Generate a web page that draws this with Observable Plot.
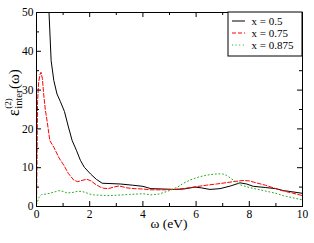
<!DOCTYPE html>
<html>
<head>
<meta charset="utf-8">
<script src="https://cdn.jsdelivr.net/npm/d3@7"></script>
<script src="https://cdn.jsdelivr.net/npm/@observablehq/plot@0.6"></script>
<style>
  html, body { margin: 0; padding: 0; background: white; }
  #chart { width: 314px; height: 243px; }
</style>
</head>
<body>
<div id="chart"></div>
<script>
// ---- data ----
const seriesNames = ["x = 0.5", "x = 0.75", "x = 0.875"];
const seriesColors = ["#000000", "#ff0000", "#22aa22"];
const seriesDash = [null, "4,2", "1,2.6"];

const w05 = [0.40, 0.47, 0.55, 0.65, 0.77, 0.90, 1.05, 1.20, 1.34, 1.50, 1.65, 1.80, 2.03, 2.25, 2.47, 2.80, 3.15, 3.60, 4.00, 4.30, 4.80, 5.20, 5.53, 5.96, 6.20, 6.52, 6.90, 7.30, 7.65, 7.90, 8.15, 8.60, 9.00, 9.28, 9.60, 10.0];
const v05 = [60, 50, 37.6, 32.5, 29.0, 27.0, 24.5, 20.5, 17.0, 14.5, 11.9, 10.1, 8.4, 7.0, 6.0, 5.9, 5.8, 5.5, 5.2, 4.6, 4.5, 4.4, 4.5, 5.0, 4.8, 4.4, 4.6, 5.3, 6.1, 5.8, 5.2, 4.9, 4.6, 4.1, 3.8, 3.4];

const w075 = [0, 0.02, 0.04, 0.08, 0.13, 0.17, 0.22, 0.27, 0.33, 0.40, 0.50, 0.65, 0.85, 1.03, 1.20, 1.40, 1.55, 1.75, 1.90, 2.05, 2.20, 2.40, 2.53, 2.70, 2.90, 3.10, 3.40, 3.70, 4.00, 4.30, 4.80, 5.20, 5.60, 6.00, 6.40, 6.77, 7.20, 7.50, 7.77, 8.00, 8.15, 8.60, 9.00, 9.28, 9.60, 10.0];
const v075 = [0, 12, 27, 32, 34, 34.6, 33, 29, 25, 22, 17, 15.3, 12.5, 10.6, 8.5, 6.8, 6.4, 6.8, 7.0, 6.6, 5.8, 5.0, 4.7, 4.6, 5.0, 5.3, 4.8, 4.6, 4.5, 4.3, 4.3, 4.4, 4.7, 5.1, 5.5, 5.8, 6.2, 6.5, 6.7, 6.6, 6.3, 5.5, 4.6, 4.0, 3.5, 2.8];

const w0875 = [0, 0.05, 0.10, 0.20, 0.35, 0.50, 0.70, 0.84, 1.00, 1.15, 1.35, 1.53, 1.70, 1.85, 2.00, 2.15, 2.40, 2.66, 3.00, 3.50, 4.00, 4.30, 4.60, 5.00, 5.30, 5.53, 5.80, 6.10, 6.40, 6.77, 7.00, 7.15, 7.40, 7.65, 8.00, 8.53, 9.00, 9.28, 9.60, 10.0];
const v0875 = [0.5, 1.5, 2.4, 3.1, 3.2, 3.4, 3.8, 4.1, 3.9, 3.5, 3.6, 3.9, 3.9, 3.6, 3.2, 3.0, 2.9, 2.8, 2.9, 3.1, 3.3, 3.0, 3.2, 4.1, 5.0, 6.0, 6.9, 7.6, 8.1, 8.4, 8.4, 8.0, 6.8, 5.6, 4.9, 4.1, 3.4, 2.8, 2.3, 1.7];

const xMajor = [0, 2, 4, 6, 8, 10];
const xMinor = [1, 3, 5, 7, 9];
const yMajor = [0, 10, 20, 30, 40, 50];
const yMinor = [5, 15, 25, 35, 45];
const xLabel = "ω (eV)";

// ---- build ----
const W = 314, H = 243;
const mL = 36, mR = 12, mT = 12, mB = 37;
const innerH = H - mT - mB, innerW = W - mL - mR;
const majorLen = 5, minorLen = 3;

const toRows = (ws, vs) => ws.map((w, i) => ({w, v: vs[i]}));
const series = [toRows(w05, v05), toRows(w075, v075), toRows(w0875, v0875)];

const font = "'Liberation Serif', 'Times New Roman', serif";

const lineMarks = series.map((rows, i) =>
  Plot.line(rows, {x: "w", y: "v", stroke: seriesColors[i], strokeWidth: 1,
    strokeDasharray: seriesDash[i] ?? undefined, clip: true}));

const chart = Plot.plot({
  width: W, height: H,
  marginLeft: mL, marginRight: mR, marginTop: mT, marginBottom: mB,
  style: {fontFamily: font, fontSize: "11.5px", background: "white", color: "black"},
  x: {domain: [0, 10]},
  y: {domain: [0, 50]},
  marks: [
    ...lineMarks,
    Plot.tickX(xMajor, {x: d => d, insetTop: innerH - majorLen, stroke: "black"}),
    Plot.tickX(xMajor, {x: d => d, insetBottom: innerH - majorLen, stroke: "black"}),
    Plot.tickX(xMinor, {x: d => d, insetTop: innerH - minorLen, stroke: "black"}),
    Plot.tickX(xMinor, {x: d => d, insetBottom: innerH - minorLen, stroke: "black"}),
    Plot.tickY(yMajor, {y: d => d, insetRight: innerW - majorLen, stroke: "black"}),
    Plot.tickY(yMajor, {y: d => d, insetLeft: innerW - majorLen, stroke: "black"}),
    Plot.tickY(yMinor, {y: d => d, insetRight: innerW - minorLen, stroke: "black"}),
    Plot.tickY(yMinor, {y: d => d, insetLeft: innerW - minorLen, stroke: "black"}),
    Plot.frame({stroke: "black", strokeWidth: 1}),
    Plot.axisX(xMajor, {tickSize: 0, tickPadding: 3, label: null, fontSize: 11.5}),
    Plot.axisY(yMajor, {tickSize: 0, tickPadding: 3, label: null, fontSize: 11.5})
  ]
});

document.getElementById("chart").appendChild(chart);

const svg = d3.select(chart);

// x label
svg.append("text")
  .attr("x", mL + innerW / 2).attr("y", 228)
  .attr("text-anchor", "middle")
  .style("font-family", font).style("font-size", "13.5px")
  .attr("fill", "black")
  .text(xLabel);

// y label with super/subscript
const gy = svg.append("g").attr("transform", "translate(19,116) rotate(-90)")
  .attr("text-anchor", "start")
  .style("font-family", font).attr("fill", "black");
const eps = gy.append("text").attr("x", 0).attr("y", 0).style("font-size", "16px").text("ε");
const w1 = eps.node().getComputedTextLength();
const sub = gy.append("text").attr("x", w1 + 0.5).attr("y", 3).style("font-size", "10.5px").text("inter");
const sup = gy.append("text").attr("x", w1 + 0.5).attr("y", -8.5).style("font-size", "9px").text("(2)");
const w2 = Math.max(sub.node().getComputedTextLength(), sup.node().getComputedTextLength());
gy.append("text").attr("x", w1 + w2 + 1).attr("y", 0).style("font-size", "15px").text("(ω)");

// legend
const lg = svg.append("g").attr("text-anchor", "start");
lg.append("rect").attr("x", 228).attr("y", mT).attr("width", W - mR - 228).attr("height", 44)
  .attr("fill", "white").attr("stroke", "black").attr("stroke-width", 1);
const rowY = [21, 33, 45];
seriesNames.forEach((name, i) => {
  lg.append("line").attr("x1", 232).attr("x2", 245).attr("y1", rowY[i]).attr("y2", rowY[i])
    .attr("stroke", seriesColors[i]).attr("stroke-width", 1)
    .attr("stroke-dasharray", seriesDash[i]);
  lg.append("text").attr("x", 251.5).attr("y", rowY[i]).attr("dy", "0.35em")
    .style("font-family", font).style("font-size", "11px").attr("fill", "black")
    .text(name);
});
</script>
</body>
</html>
